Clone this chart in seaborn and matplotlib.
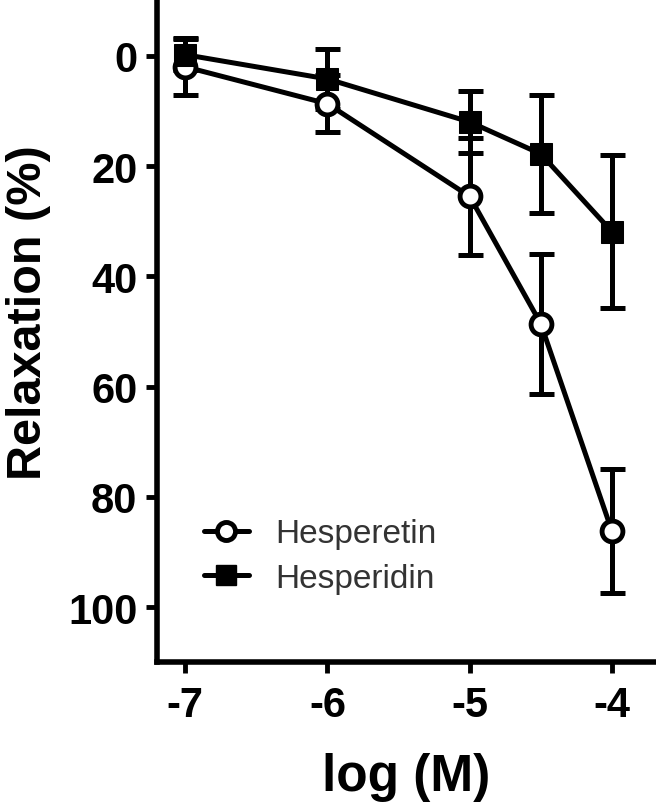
import matplotlib
matplotlib.use("Agg")
import matplotlib.pyplot as plt
import seaborn as sns
import pandas as pd
from matplotlib.lines import Line2D

log_conc = [-7, -6, -5, -4.5, -4]
hesperetin = [2.0, 8.7, 25.5, 48.6, 86.2]
hesperetin_err = [5.2, 5.2, 10.6, 12.7, 11.3]
hesperidin = [-0.2, 4.2, 12.0, 17.8, 31.9]
hesperidin_err = [2.8, 5.5, 5.7, 10.7, 13.9]
series_names = ["Hesperetin", "Hesperidin"]
x_ticks = [-7, -6, -5, -4]
y_ticks = [0, 20, 40, 60, 80, 100]

sns.set_theme(style="ticks")
plt.rcParams['font.family'] = ['Liberation Sans', 'DejaVu Sans']
plt.rcParams['text.color'] = 'black'
plt.rcParams['axes.labelcolor'] = 'black'
plt.rcParams['xtick.color'] = 'black'
plt.rcParams['ytick.color'] = 'black'
plt.rcParams['axes.edgecolor'] = 'black'

df = pd.DataFrame({
    "x": log_conc * 2,
    "y": hesperetin + hesperidin,
    "compound": [series_names[0]] * len(log_conc) + [series_names[1]] * len(log_conc),
})

fig = plt.figure(figsize=(6.56, 8.03), dpi=100)
ax = fig.add_axes([0.239, 0.174, 0.761, 0.826])

lw = 3.6
for xs, ys, es in [(log_conc, hesperidin, hesperidin_err), (log_conc, hesperetin, hesperetin_err)]:
    ax.errorbar(xs, ys, yerr=es, fmt="none", ecolor="black", elinewidth=lw,
                capsize=9, capthick=lw, zorder=2)

sns.lineplot(data=df, x="x", y="y", hue="compound", style="compound",
             markers={"Hesperetin": "o", "Hesperidin": "s"},
             dashes=False, palette=["black", "black"], linewidth=lw,
             ax=ax, legend=False, zorder=3)
lines = ax.get_lines()[-2:]
lines[0].set_markerfacecolor("white")
lines[0].set_markeredgecolor("black")
lines[0].set_markersize(15)
lines[0].set_markeredgewidth(3.5)
lines[1].set_markerfacecolor("black")
lines[1].set_markeredgecolor("black")
lines[1].set_markersize(16)

ax.set_xlim(-7.2, -3.69)
ax.set_ylim(110, -10.3)
ax.set_xticks(x_ticks)
ax.set_xticklabels([str(t) for t in x_ticks])
ax.set_yticks(y_ticks)
ax.set_yticklabels([str(t) for t in y_ticks])
for lbl in ax.get_xticklabels() + ax.get_yticklabels():
    lbl.set_fontweight("bold")
    lbl.set_fontsize(30)
ax.tick_params(axis="both", width=3.5, length=8, direction="out", pad=6)
ax.tick_params(axis="x", pad=8)
ax.set_xlabel("log (M)", fontsize=37, fontweight="bold", labelpad=20)
ax.set_ylabel("Relaxation (%)", fontsize=35, fontweight="bold", labelpad=12, y=0.528)
sns.despine(ax=ax)
for s in ["left", "bottom"]:
    ax.spines[s].set_linewidth(4)

handles = [
    Line2D([], [], color="black", lw=lw, marker="o", markersize=13, markerfacecolor="white",
           markeredgewidth=3.5),
    Line2D([], [], color="black", lw=lw, marker="s", markersize=15),
]
leg = ax.legend(handles, series_names, loc="upper left", bbox_to_anchor=(0.034, 0.262),
                frameon=False, fontsize=24, handlelength=1.35, handletextpad=0.8,
                labelspacing=0.4)
for t in leg.get_texts():
    t.set_color("#333333")

fig.savefig("out.png", dpi=100)
